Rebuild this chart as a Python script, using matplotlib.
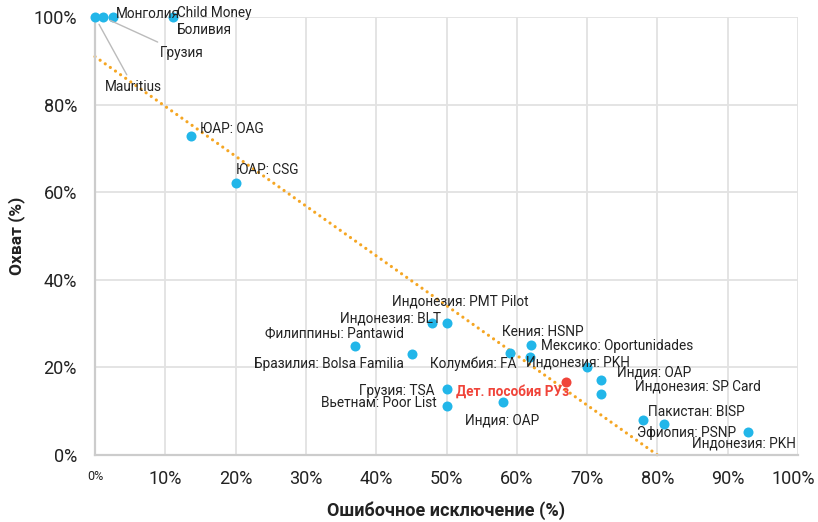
import numpy as np
import matplotlib
matplotlib.use("Agg")
import matplotlib.pyplot as plt
from matplotlib.ticker import FixedLocator
from matplotlib.transforms import ScaledTranslation

plt.rcParams['font.family'] = ['Roboto', 'DejaVu Sans']

# ---- data (percent) ----
labels = ["Mauritius", "Грузия", "Монголия", "Боливия",
          "ЮАР: OAG", "ЮАР: CSG",
          "Филиппины: Pantawid", "Бразилия: Bolsa Familia",
          "Индонезия: BLT", "Индонезия: PMT Pilot",
          "Колумбия: FA", "Кения: HSNP", "Мексико: Oportunidades",
          "Индонезия: PKH", "Индия: OAP", "Индонезия: SP Card",
          "Грузия: TSA", "Вьетнам: Poor List", "Индия: OAP",
          "Пакистан: BISP", "Эфиопия: PSNP", "Индонезия: PKH"]
exclusion = [0.0, 1.1, 2.6, 11.1,
             13.7, 20.1,
             37.0, 45.1,
             47.9, 50.1,
             59.0, 62.0, 61.9,
             70.0, 72.0, 72.0,
             50.1, 50.1, 58.0,
             78.0, 80.9, 92.9]
coverage = [100, 100, 100, 100,
            72.8, 62.1,
            24.9, 23.1,
            30.1, 30.1,
            23.3, 25.1, 22.4,
            20.1, 17.1, 13.9,
            15.1, 11.2, 12.1,
            8.0, 7.1, 5.3]

uz_label = "Дет. пособия РУз"
uz_exclusion = 67.0
uz_coverage = 16.7

extra_label = "Child Money"

x_ticks = [0, 10, 20, 30, 40, 50, 60, 70, 80, 90, 100]
y_ticks = [0, 20, 40, 60, 80, 100]

# ---- label layout (pixel offsets, ha, leader) ----
label_layout = [(10, -70, 'left', True), (57, -36, 'left', True), (3, 3, 'left', False), (4, -13, 'left', False),
                (9, 7, 'left', False), (0, 13, 'left', False),
                (-21, 13, 'center', False), (-8, -10, 'right', False),
                (9, 5, 'right', False), (13, 22, 'center', False),
                (7, -11, 'right', False), (12, 13, 'center', False), (11, 11, 'left', False),
                (-9, 4, 'center', False), (16, 8, 'left', False), (34, 8, 'left', False),
                (-13, -2, 'right', False), (-10, 3, 'right', False), (-1, -18, 'center', False),
                (5, 8, 'left', False), (23, -9, 'center', False), (-4, -12, 'center', False)]

BLUE = "#22B6E9"
RED = "#F0443A"
ORANGE = "#F5A623"
TXT = "#222222"

W, H = 818, 522
fig = plt.figure(figsize=(W / 100, H / 100), dpi=100)
ax = fig.add_axes([95 / W, (522 - 455) / H, (798 - 95) / W, (455 - 17) / H])

ax.set_xlim(0, 100)
ax.set_ylim(0, 100)

# grid
ax.xaxis.set_major_locator(FixedLocator(x_ticks))
ax.yaxis.set_major_locator(FixedLocator(y_ticks))
ax.grid(True, color="#e2e2e2", linewidth=1.3, zorder=0)
ax.set_axisbelow(True)
for s in ['top', 'right']:
    ax.spines[s].set_visible(False)
for s in ['left', 'bottom']:
    ax.spines[s].set_color("#cccccc")
    ax.spines[s].set_linewidth(1.6)

# trend line (linear fit of the points)
slope, intercept = np.polyfit(exclusion, coverage, 1)
x_end = -intercept / slope
xs = np.array([0, x_end])
ax.plot(xs, intercept + slope * xs, color=ORANGE, linewidth=2.3,
        linestyle=(0, (0.01, 1.95)), dash_capstyle='round', zorder=2, clip_on=False)

# points
ax.scatter(exclusion, coverage, s=52, color=BLUE, zorder=4, linewidths=0, clip_on=False)
ax.scatter([uz_exclusion], [uz_coverage], s=52, color=RED, zorder=4, linewidths=0, clip_on=False)

px = 72 / 100.0  # pixel -> points
for lab, x, y, (dx, dy, ha, leader) in zip(labels, exclusion, coverage, label_layout):
    kw = {}
    if leader:
        kw['arrowprops'] = dict(arrowstyle='-', color='#bbbbbb', lw=1.0, shrinkA=2, shrinkB=6)
    ax.annotate(lab, (x, y), xytext=(dx * px, dy * px), textcoords='offset points',
                ha=ha, va='center', fontsize=9.8, color=TXT, zorder=5, annotation_clip=False, **kw)

# extra text continuing the Mongolia label
ax.annotate(extra_label, (exclusion[3], coverage[3]), xytext=(4 * px, 4 * px),
            textcoords='offset points', ha='left', va='center', fontsize=9.8,
            color=TXT, zorder=5, annotation_clip=False)

ax.annotate(uz_label, (uz_exclusion, uz_coverage), xytext=(3 * px, -10 * px),
            textcoords='offset points', ha='right', va='center', fontsize=9.8,
            color=RED, fontweight='bold', zorder=5, annotation_clip=False)

# ticks
ax.tick_params(axis='both', length=0)
ax.tick_params(axis='y', pad=13, labelsize=13, labelcolor=TXT)
ax.tick_params(axis='x', pad=11, labelsize=13, labelcolor=TXT)
ax.set_yticklabels([f"{v}%" for v in y_ticks])
ax.set_xticklabels([f"{v}%" for v in x_ticks])
xl = ax.get_xticklabels()
xl[0].set_fontsize(9)
xl[-1].set_horizontalalignment('right')
xl[-1].set_transform(xl[-1].get_transform() + ScaledTranslation(0.17, 0, fig.dpi_scale_trans))

ax.set_xlabel("Ошибочное исключение (%)", fontsize=13, fontweight='bold', color=TXT, labelpad=9)
ax.set_ylabel("Охват (%)", fontsize=12.5, fontweight='bold', color=TXT, labelpad=6)

fig.savefig("out.png", dpi=100)
